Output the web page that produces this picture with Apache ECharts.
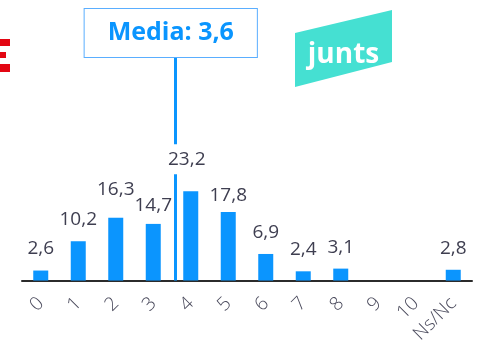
<!DOCTYPE html>
<html>
<head>
<meta charset="utf-8">
<script src="https://cdn.jsdelivr.net/npm/echarts@6/dist/echarts.min.js"></script>
<style>
  html, body { margin: 0; padding: 0; background: #ffffff; }
  #chart { width: 490px; height: 346px; }
</style>
</head>
<body>
<div id="chart"></div>
<script>
// Vote distribution (% of respondents) on a 0-10 scale plus "don't know / no answer"
const categories = ['0', '1', '2', '3', '4', '5', '6', '7', '8', '9', '10', 'Ns/Nc'];
const percentages = [2.6, 10.2, 16.3, 14.7, 23.2, 17.8, 6.9, 2.4, 3.1, null, null, 2.8];
const meanScore = 3.6;
const meanText = 'Media: 3,6';

// Small label nudges [dx, dy] so crowded value labels stay readable
const labelNudge = {2: [0, -7], 3: [0, 3], 4: [-4, -5], 5: [0, 5]};

const BLUE = '#0b95fe';
const fmt = v => String(v).replace('.', ',');

const barData = percentages.map((v, i) => {
  const item = { value: v };
  const nudge = labelNudge[i];
  const label = {};
  if (nudge) label.offset = nudge;
  if (i === 4) {
    // white plate so the mean line stops behind this label
    label.backgroundColor = '#ffffff';
    label.padding = [6, 2, 5, 2];
  }
  item.label = label;
  return item;
});

const chart = echarts.init(document.getElementById('chart'), null, { renderer: 'canvas' });
chart.setOption({
  animation: false,
  backgroundColor: '#ffffff',
  grid: { left: 22, right: 18, top: 57, bottom: 64, containLabel: false },
  xAxis: [
    {
      type: 'category',
      data: categories,
      axisLine: { lineStyle: { color: '#2b2b2b', width: 2 } },
      axisTick: { show: false },
      axisLabel: {
        rotate: 45,
        margin: 20,
        fontFamily: 'Open Sans',
        fontWeight: 300,
        fontSize: 19,
        color: '#4a4a5c',
        interval: 0
      }
    },
    {
      type: 'value',
      min: -0.5,
      max: categories.length - 0.5,
      show: false
    }
  ],
  yAxis: {
    type: 'value',
    min: 0,
    max: 58,
    show: false,
    splitLine: { show: false }
  },
  series: [
    {
      type: 'scatter',
      xAxisIndex: 1,
      data: [],
      z: 1,
      markLine: {
        silent: true,
        z: 1,
        symbol: 'none',
        animation: false,
        lineStyle: { color: BLUE, width: 3, type: 'solid' },
        label: {
          show: true,
          position: 'end',
          distance: 0,
          offset: [-5, 0],
          formatter: meanText,
          fontFamily: 'Open Sans',
          fontWeight: 'bold',
          fontSize: 25,
          lineHeight: 28,
          color: '#0a95fe',
          backgroundColor: '#ffffff',
          borderColor: '#5aaeff',
          borderWidth: 1,
          padding: [10, 23, 10, 23]
        },
        data: [{ xAxis: meanScore }]
      }
    },
    {
      type: 'bar',
      z: 5,
      barWidth: 15,
      data: barData,
      itemStyle: { color: BLUE },
      label: {
        show: true,
        position: 'top',
        distance: 12,
        formatter: p => fmt(p.value),
        fontFamily: 'Open Sans',
        fontSize: 19,
        color: '#3e3e50'
      }
    }
  ],
  graphic: [
    // red edge of the neighbouring party logo
    { type: 'rect', left: 0, top: 39, shape: { width: 10, height: 7 }, style: { fill: '#e30613' } },
    { type: 'rect', left: 0, top: 52, shape: { width: 6, height: 6 }, style: { fill: '#e30613' } },
    { type: 'rect', left: 0, top: 64, shape: { width: 10, height: 8 }, style: { fill: '#e30613' } },
    // party badge
    {
      type: 'polygon',
      shape: { points: [[295, 33], [392, 10], [392, 62], [295, 87]] },
      style: { fill: '#45e0d2' }
    },
    {
      type: 'text',
      x: 343.5,
      y: 69,
      style: {
        text: 'junts',
        fill: '#ffffff',
        font: 'bold 28px "Open Sans"',
        textAlign: 'center',
        textVerticalAlign: 'bottom'
      }
    }
  ]
});
</script>
</body>
</html>
